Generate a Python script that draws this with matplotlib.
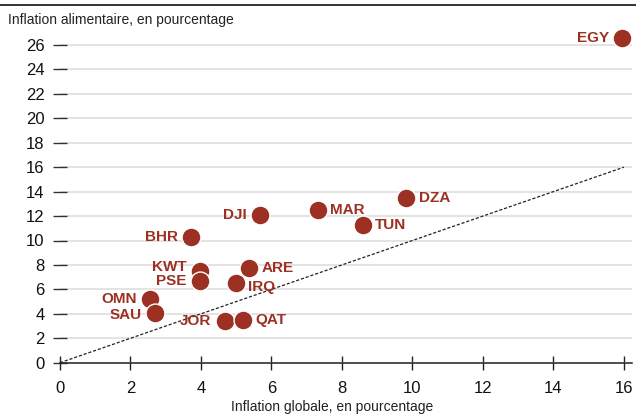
import numpy as np
import matplotlib
matplotlib.use('Agg')
import matplotlib.pyplot as plt
from matplotlib.lines import Line2D

# data
countries = ['EGY', 'DZA', 'MAR', 'TUN', 'DJI', 'BHR', 'KWT', 'PSE',
             'ARE', 'IRQ', 'OMN', 'SAU', 'JOR', 'QAT']
headline = [15.96, 9.82, 7.32, 8.59, 5.67, 3.71, 3.97, 3.97,
            5.36, 4.99, 2.55, 2.69, 4.67, 5.19]
food = [26.6, 13.45, 12.5, 11.27, 12.09, 10.31, 7.53, 6.66,
        7.72, 6.50, 5.21, 4.04, 3.44, 3.49]
# label side and offset (points)
lab_side = ['l', 'r', 'r', 'r', 'l', 'l', 'l', 'l', 'r', 'r', 'l', 'l', 'l', 'r']
lab_dy = [0, 0, 0, 0, 0, 0, 3, 0, 0, -3, 0, -1, 0, 0]
xticks = list(range(0, 17, 2))
yticks = list(range(0, 27, 2))

red = '#9c3123'
fnarrow = ['Liberation Sans Narrow', 'Liberation Sans', 'DejaVu Sans']
fnormal = ['Liberation Sans', 'DejaVu Sans']

fig = plt.figure(figsize=(6.36, 4.16), dpi=100)
ax = fig.add_axes([60/636, (416-362.7)/416, (632-60)/636, 27.5*12.22/416])

ax.set_xlim(0, 16.23)
ax.set_ylim(0, 27.5)

# 45 degree line
ax.plot([0, 16], [0, 16], color='#222222', lw=0.9, ls=(0, (2.5, 1.5)), zorder=2)

ax.scatter(headline, food, s=185, color=red, edgecolor='white', linewidth=1.0,
           zorder=3, clip_on=False)

for c, x, y, sd, dy in zip(countries, headline, food, lab_side, lab_dy):
    if sd == 'l':
        off, ha = -9.5, 'right'
    else:
        off, ha = 9.0, 'left'
    ax.annotate(c, (x, y), xytext=(off, dy), textcoords='offset points',
                ha=ha, va='center', color=red, fontsize=11, fontweight='bold',
                family=fnarrow, zorder=4)

ax.set_xticks(xticks)
ax.set_yticks(yticks)
ax.yaxis.grid(True, color='#e0e0e0', lw=1.3)
ax.set_axisbelow(True)
for s in ['top', 'right', 'left']:
    ax.spines[s].set_visible(False)
ax.spines['bottom'].set_color('#222222')
ax.spines['bottom'].set_linewidth(1.1)
ax.spines['bottom'].set_zorder(2.5)
ax.tick_params(axis='y', direction='inout', length=10.5, width=1.0,
               color='#333333', pad=6, labelsize=12)
ax.tick_params(axis='x', direction='inout', length=10, width=1.0,
               color='#222222', pad=8, labelsize=12)
for lab in ax.get_xticklabels() + ax.get_yticklabels():
    lab.set_family(fnormal)
    lab.set_color('#111111')

ax.set_xlabel('Inflation globale, en pourcentage', fontsize=10, family=fnarrow,
              color='#222222')
ax.xaxis.set_label_coords(0.475, -0.112)

fig.text(8/636, 1-20/416, 'Inflation alimentaire, en pourcentage', fontsize=10,
         family=fnarrow, color='#222222', va='center', ha='left')

fig.add_artist(Line2D([0, 1], [1-5/416, 1-5/416], color='#111111', lw=1.2))

fig.savefig('out.png', dpi=100)
